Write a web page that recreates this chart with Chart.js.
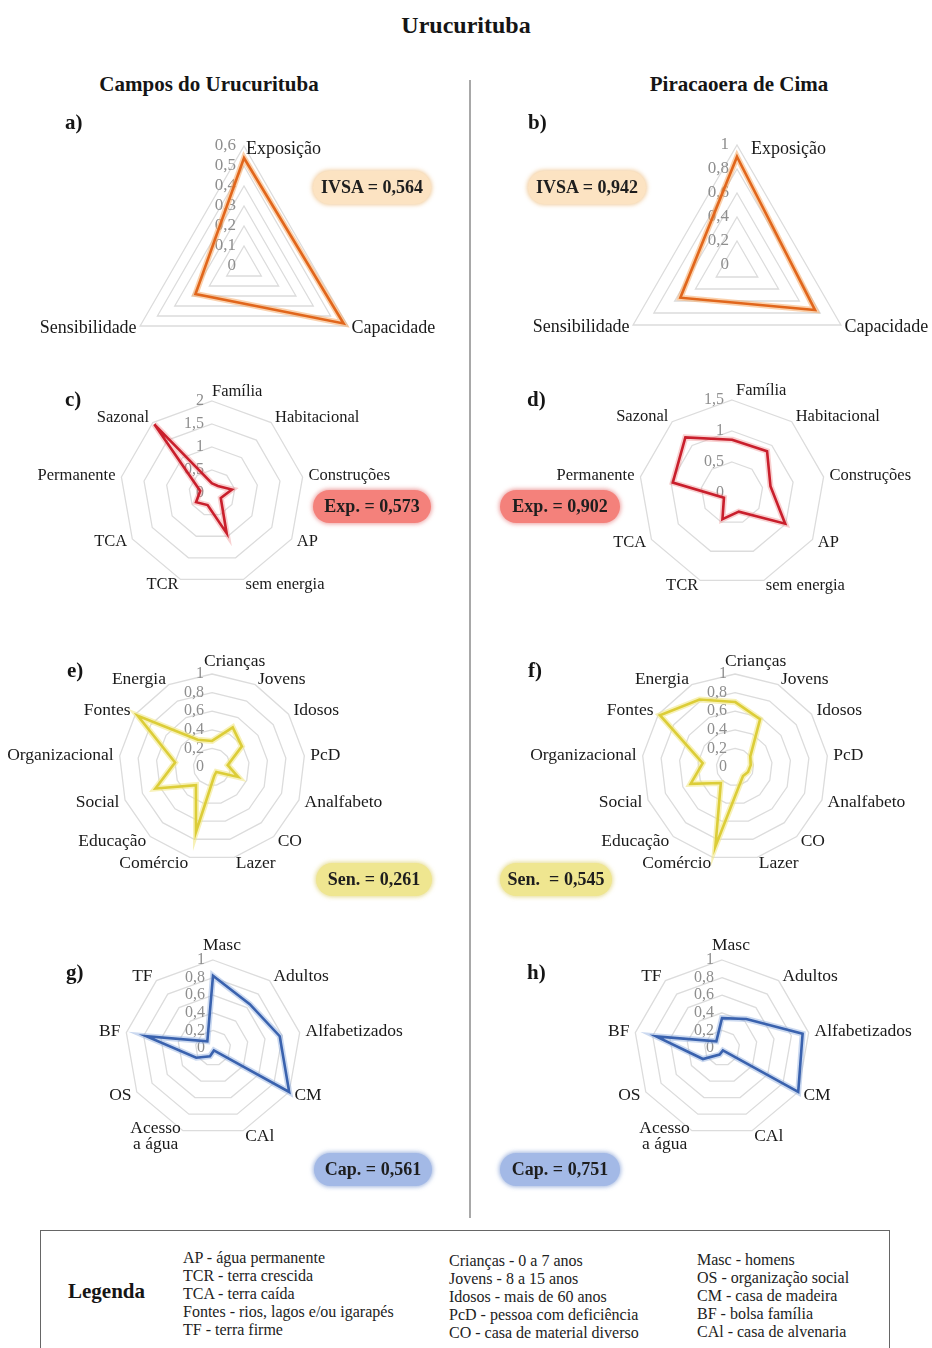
<!DOCTYPE html>
<html><head><meta charset="utf-8">
<script src="https://cdn.jsdelivr.net/npm/chart.js@4.4.1/dist/chart.umd.min.js"></script>
<style>
html,body{margin:0;padding:0;background:#fff;}
body{width:932px;height:1348px;position:relative;overflow:hidden;font-family:"Liberation Serif","Times New Roman",serif;color:#151515;}
.t{position:absolute;white-space:nowrap;}
#title{left:0;width:932px;top:11px;line-height:28px;text-align:center;font-weight:bold;font-size:24px;}
.hdr{top:72px;line-height:24px;font-weight:bold;font-size:21px;text-align:center;}
.let{font-weight:bold;font-size:21px;line-height:24px;}
.pill{position:absolute;height:33px;border-radius:17px;display:flex;align-items:center;justify-content:center;font-weight:bold;font-size:18px;color:#1e1e1e;}
.ivsa{background:#fce3c2;box-shadow:0 0 4px 1px rgba(238,190,130,0.8);}
.exp{background:#f4817b;box-shadow:0 0 4px 1px rgba(225,95,95,0.6);}
.sen{background:#efe690;box-shadow:0 0 4px 1px rgba(220,205,100,0.7);}
.cap{background:#a3b9e6;box-shadow:0 0 4px 1px rgba(120,150,210,0.7);}
canvas{position:absolute;}
#divider{position:absolute;left:469px;top:80px;width:1.5px;height:1138px;background:#a8a8a8;}
#legend{position:absolute;left:40px;top:1230px;width:850px;height:140px;border:1px solid #666;box-sizing:border-box;}
#legend .col{position:absolute;font-size:16px;line-height:18px;color:#222;}
#legend .lg{position:absolute;left:27px;top:48px;font-weight:bold;font-size:21px;line-height:24px;}
</style>
</head>
<body>
<div id="title" class="t">Urucurituba</div>
<div class="t hdr" style="left:0;width:418px;">Campos do Urucurituba</div>
<div class="t hdr" style="left:480px;width:518px;">Piracaoera de Cima</div>
<div id="divider"></div>

<canvas id="cA" width="466" height="300" style="left:0;top:116px"></canvas>
<canvas id="cB" width="466" height="300" style="left:466px;top:115px"></canvas>
<canvas id="cC" width="466" height="300" style="left:0;top:343px"></canvas>
<canvas id="cD" width="466" height="300" style="left:466px;top:343px"></canvas>
<canvas id="cE" width="466" height="300" style="left:0;top:617px"></canvas>
<canvas id="cF" width="466" height="300" style="left:466px;top:617px"></canvas>
<canvas id="cG" width="466" height="300" style="left:0;top:898px"></canvas>
<canvas id="cH" width="466" height="300" style="left:466px;top:898px"></canvas>

<div class="t let" style="left:65px;top:110px">a)</div>
<div class="t let" style="left:528px;top:110px">b)</div>
<div class="t let" style="left:65px;top:387px">c)</div>
<div class="t let" style="left:527px;top:387px">d)</div>
<div class="t let" style="left:67px;top:658px">e)</div>
<div class="t let" style="left:528px;top:658px">f)</div>
<div class="t let" style="left:66px;top:960px">g)</div>
<div class="t let" style="left:527px;top:960px">h)</div>

<div class="pill ivsa" style="left:313px;top:171px;width:118px">IVSA = 0,564</div>
<div class="pill ivsa" style="left:528px;top:171px;width:118px">IVSA = 0,942</div>
<div class="pill exp" style="left:313px;top:490px;width:118px">Exp. = 0,573</div>
<div class="pill exp" style="left:500px;top:490px;width:120px">Exp. = 0,902</div>
<div class="pill sen" style="left:316px;top:863px;width:116px">Sen. = 0,261</div>
<div class="pill sen" style="left:500px;top:863px;width:112px">Sen. &nbsp;= 0,545</div>
<div class="pill cap" style="left:314px;top:1153px;width:118px">Cap. = 0,561</div>
<div class="pill cap" style="left:500px;top:1153px;width:120px">Cap. = 0,751</div>

<div id="legend">
  <div class="lg">Legenda</div>
  <div class="col" style="left:142px;top:18px">AP - água permanente<br>TCR - terra crescida<br>TCA - terra caída<br>Fontes - rios, lagos e/ou igarapés<br>TF - terra firme</div>
  <div class="col" style="left:408px;top:21px">Crianças - 0 a 7 anos<br>Jovens - 8 a 15 anos<br>Idosos - mais de 60 anos<br>PcD - pessoa com deficiência<br>CO - casa de material diverso</div>
  <div class="col" style="left:656px;top:20px">Masc - homens<br>OS - organização social<br>CM - casa de madeira<br>BF - bolsa família<br>CAl - casa de alvenaria</div>
</div>

<script>
// ---------- DATA ----------
const labelsIVSA = ['Exposição', 'Capacidade', 'Sensibilidade'];
const valuesA = [0.54, 0.575, 0.28];
const valuesB = [0.902, 0.751, 0.545];
const ticksA = [0, 0.1, 0.2, 0.3, 0.4, 0.5, 0.6];
const ticksB = [0, 0.2, 0.4, 0.6, 0.8, 1];

const labelsExp = ['Família', 'Habitacional', 'Construções', 'AP', 'sem energia', 'TCR', 'TCA', 'Permanente', 'Sazonal'];
const valuesC = [0.21, 0.2, 0.44, 0.22, 0.93, 0.28, 0.4, 0.26, 1.95];
const valuesD = [0.86, 0.88, 0.63, 0.99, 0.32, 0.45, 0.15, 0.97, 1.17];
const ticksC = [0, 0.5, 1, 1.5, 2];
const ticksD = [0, 0.5, 1, 1.5];

const labelsSen = ['Crianças', 'Jovens', 'Idosos', 'PcD', 'Analfabeto', 'CO', 'Lazer', 'Comércio', 'Educação', 'Social', 'Organizacional', 'Fontes', 'Energia'];
const valuesE = [0.28, 0.48, 0.39, 0.17, 0.3, 0.07, 0.1, 0.72, 0.26, 0.65, 0.4, 0.97, 0.33];
const valuesF = [0.7, 0.58, 0.2, 0.17, 0.15, 0.13, 0.2, 0.88, 0.23, 0.51, 0.35, 0.98, 0.82];
const ticksE = [0, 0.2, 0.4, 0.6, 0.8, 1];

const labelsCap = ['Masc', 'Adultos', 'Alfabetizados', 'CM', 'CAl', ['Acesso', 'a água'], 'OS', 'BF', 'TF'];
const valuesG = [0.82, 0.65, 0.77, 1.0, 0.03, 0.1, 0.22, 0.77, 0.1];
const valuesH = [0.34, 0.43, 0.93, 1.0, 0.03, 0.08, 0.25, 0.76, 0.1];
const ticksG = [0, 0.2, 0.4, 0.6, 0.8, 1];

// ---------- DRAWING ----------
const SERIF = '"Liberation Serif","Times New Roman",serif';
function fmt(v){ return String(Number(v.toFixed(2))).replace('.', ','); }

const excelLabels = {
  id: 'excelLabels',
  beforeDatasetsDraw(chart, args, o) {
    const sc = chart.scales.r, ctx = chart.ctx;
    ctx.save();
    ctx.font = o.tickFont; ctx.fillStyle = '#8e8e8e';
    ctx.textAlign = 'right'; ctx.textBaseline = 'middle';
    o.ticks.forEach(v => {
      ctx.fillText(fmt(v), sc.xCenter - o.tickDx, sc.yCenter - sc.getDistanceFromCenterForValue(v));
    });
    ctx.restore();
  },
  afterDraw(chart, args, o) {
    const sc = chart.scales.r, ctx = chart.ctx;
    const cx = sc.xCenter, cy = sc.yCenter, R = sc.drawingArea;
    ctx.save();
    ctx.font = o.labelFont; ctx.fillStyle = '#1a1a1a'; ctx.textBaseline = 'middle';
    const lh = o.lineHeight;
    chart.data.labels.forEach((lab, i) => {
      const lines = Array.isArray(lab) ? lab : [lab];
      const th = sc.getIndexAngle(i);
      const s = Math.sin(th), c = Math.cos(th);
      const p = sc.getPointPosition(i, R + o.pad);
      const h = lines.length * lh;
      const w = Math.max(...lines.map(l => ctx.measureText(l).width));
      let yc = p.y, left;
      if (Math.abs(s) < 0.01) {
        if (c > 0) { left = cx + o.topDx; yc = cy - R + o.topDy; }
        else left = p.x - w / 2;
      } else left = s > 0 ? p.x : p.x - w;
      ctx.textAlign = 'center';
      lines.forEach((ln, k) => ctx.fillText(ln, left + w / 2, yc - h / 2 + lh * (k + 0.5)));
    });
    ctx.restore();
  }
};

function makeRadar(id, spec) {
  const cv = document.getElementById(id);
  const left = parseFloat(cv.style.left), top = parseFloat(cv.style.top);
  const W = cv.width, H = cv.height, R = spec.R;
  const padding = {
    left: spec.cx - left - R, right: left + W - spec.cx - R,
    top: spec.cy - top - R, bottom: top + H - spec.cy - R
  };
  const ticks = spec.ticks;
  new Chart(cv, {
    type: 'radar',
    data: {
      labels: spec.labels,
      datasets: [
        { data: spec.values, borderColor: spec.color, borderWidth: 2.6, fill: false, pointRadius: 0 },
        { data: spec.values, borderColor: spec.halo, borderWidth: 6, fill: false, pointRadius: 0 }
      ]
    },
    options: {
      responsive: false, animation: false, devicePixelRatio: 1,
      layout: { padding },
      plugins: {
        legend: { display: false }, tooltip: { enabled: false },
        excelLabels: {
          ticks, tickFont: spec.tickFont || ('16px ' + SERIF), tickDx: 8,
          labelFont: spec.labelSize + 'px ' + SERIF, lineHeight: spec.labelSize * 0.95,
          pad: spec.pad, topDx: spec.topDx, topDy: spec.topDy
        }
      },
      elements: { line: { tension: 0, borderJoinStyle: 'miter' }, point: { radius: 0 } },
      scales: {
        r: {
          min: 0, max: ticks[ticks.length - 1],
          ticks: { display: false, stepSize: ticks[1] - ticks[0] },
          grid: { color: '#dcdcdc', lineWidth: 1.3 },
          angleLines: { display: false },
          pointLabels: { display: false }
        }
      }
    },
    plugins: [excelLabels]
  });
}

const ORANGE = '#e1661c', ORANGE_H = 'rgba(246,172,105,0.55)';
const RED = '#c91f2c', RED_H = 'rgba(236,120,120,0.35)';
const YEL = '#dccd38', YEL_H = 'rgba(242,232,135,0.6)';
const BLUE = '#3a62ae', BLUE_H = 'rgba(140,170,222,0.45)';

makeRadar('cA', { cx: 244, cy: 266, R: 120, labels: labelsIVSA, values: valuesA, ticks: ticksA, color: ORANGE, halo: ORANGE_H, labelSize: 18, pad: 4, topDx: 2, topDy: 3, tickFont: '17px ' + SERIF });
makeRadar('cB', { cx: 737, cy: 265, R: 120, labels: labelsIVSA, values: valuesB, ticks: ticksB, color: ORANGE, halo: ORANGE_H, labelSize: 18, pad: 4, topDx: 14, topDy: 4, tickFont: '17px ' + SERIF });
makeRadar('cC', { cx: 212, cy: 493, R: 92, labels: labelsExp, values: valuesC, ticks: ticksC, color: RED, halo: RED_H, labelSize: 16.5, pad: 6, topDx: 0, topDy: -9 });
makeRadar('cD', { cx: 732, cy: 493, R: 93, labels: labelsExp, values: valuesD, ticks: ticksD, color: RED, halo: RED_H, labelSize: 16.5, pad: 6, topDx: 4, topDy: -9 });
makeRadar('cE', { cx: 212, cy: 767, R: 93, labels: labelsSen, values: valuesE, ticks: ticksE, color: YEL, halo: YEL_H, labelSize: 17.5, pad: 6, topDx: -8, topDy: -13 });
makeRadar('cF', { cx: 735, cy: 767, R: 93, labels: labelsSen, values: valuesF, ticks: ticksE, color: YEL, halo: YEL_H, labelSize: 17.5, pad: 6, topDx: -10, topDy: -13 });
makeRadar('cG', { cx: 213, cy: 1048, R: 88, labels: labelsCap, values: valuesG, ticks: ticksG, color: BLUE, halo: BLUE_H, labelSize: 17.5, pad: 6, topDx: -10, topDy: -15 });
makeRadar('cH', { cx: 722, cy: 1048, R: 88, labels: labelsCap, values: valuesH, ticks: ticksG, color: BLUE, halo: BLUE_H, labelSize: 17.5, pad: 6, topDx: -10, topDy: -15 });
</script>
</body></html>
